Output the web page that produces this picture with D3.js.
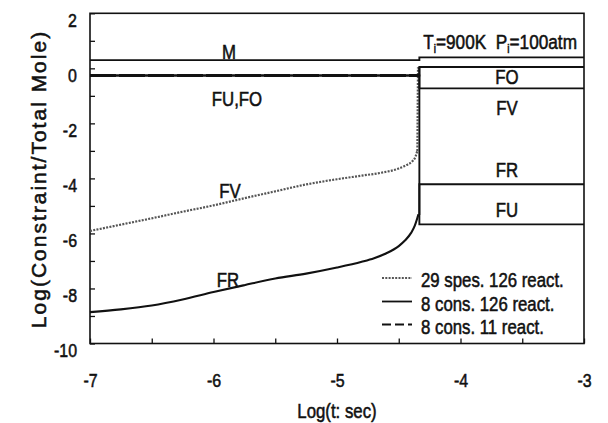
<!DOCTYPE html>
<html>
<head>
<meta charset="utf-8">
<script src="https://cdn.jsdelivr.net/npm/d3@7"></script>
<style>
  html, body { margin: 0; padding: 0; background: #fff; }
  svg { display: block; }
  text { font-family: "Liberation Sans", Arial, sans-serif; fill: #111; stroke: #111; stroke-width: 0.55px; white-space: pre; }
</style>
</head>
<body>
<svg id="chart" width="608" height="423"></svg>
<script>
// Time axis: log10(t / s)
const xDomain = [-7, -3];
const yDomain = [-10, 2];
const xTickValues = [-7, -6.5, -6, -5.5, -5, -4.5, -4, -3.5, -3];
const yTickValues = [-10, -9, -8, -7, -6, -5, -4, -3, -2, -1, 0, 1, 2];

// Ignition jump time (log t)
const tJump = -4.333;

// 29 species / 126 reactions: FV constraint before ignition
const fvTime  = [-7, -6.75, -6.5, -6.25, -6, -5.75, -5.5, -5.25, -5, -4.8, -4.65, -4.5, -4.44, -4.39, -4.365, -4.35];
const fvValue = [-5.91, -5.68, -5.45, -5.21, -4.98, -4.72, -4.47, -4.22, -4.03, -3.9, -3.8, -3.64, -3.52, -3.38, -3.22, -3.0];
const fvRiseTime  = [-4.35, -4.345, tJump];
const fvRiseValue = [-3.0, 0.0, 0.0];

// 8 constraints / 126 reactions: FR constraint
const frTime  = [-7, -6.75, -6.5, -6.25, -6, -5.75, -5.5, -5.25, -5, -4.8, -4.7, -4.6, -4.5, -4.45, -4.4, -4.37, -4.35, -4.34];
const frValue = [-8.86, -8.76, -8.62, -8.4, -8.13, -7.88, -7.64, -7.46, -7.24, -7.03, -6.9, -6.72, -6.46, -6.26, -5.98, -5.72, -5.45, -5.3];
const frAfterTime  = [-4.34, tJump, tJump, -3];
const frAfterValue = [-5.3, -5.3, -4.21, -4.21];

// Piecewise-constant constraints (before / after the jump)
const stepTime = [-7, tJump, tJump, -3];
const mValue   = [0.30, 0.30, 0.40, 0.40];
const foValue  = [-0.26, -0.26, 0.05, 0.05];
const fuValue  = [-0.26, -0.26, -5.67, -5.67];
const fvAfterTime  = [tJump, tJump, -3];
const fvAfterValue = [0.05, -0.73, -0.73];

const legendLabels = ["29 spes. 126 react.", "8 cons. 126 react.", "8 cons. 11 react."];

const svg = d3.select("#chart");
const margin = { left: 90, top: 13.3, right: 24, bottom: 79.5 };
const W = 608, H = 423;
const x = d3.scaleLinear().domain(xDomain).range([margin.left, W - margin.right]);
const y = d3.scaleLinear().domain(yDomain).range([H - margin.bottom, margin.top]);

const SX = 0.84; // condensed text width

function ctext(g, px, py, str, anchor, size) {
  return g.append("text")
    .attr("transform", `translate(${px},${py}) scale(${SX},1)`)
    .attr("text-anchor", anchor)
    .attr("font-size", size)
    .text(str);
}

const zip = (ts, vs) => ts.map((t, i) => [t, vs[i]]);
const line = d3.line().x(d => x(d[0])).y(d => y(d[1]));
const smooth = d3.line().x(d => x(d[0])).y(d => y(d[1])).curve(d3.curveMonotoneX);

// Axes with inward ticks
const gx = svg.append("g").attr("transform", `translate(0,${y(-10)})`)
  .call(d3.axisBottom(x).tickValues(xTickValues).tickSize(-5).tickSizeOuter(0)
    .tickFormat(d => Number.isInteger(d) ? String(d) : ""));
gx.select(".domain").remove();
gx.selectAll(".tick line").attr("stroke", "#111").attr("stroke-width", 1.3);
gx.selectAll(".tick text")
  .attr("y", 0).attr("dy", 0)
  .attr("font-size", 19).attr("font-family", null).attr("fill", "#111")
  .attr("transform", `translate(0,${387 - y(-10)}) scale(${SX},1)`);

const gy = svg.append("g").attr("transform", `translate(${x(-7)},0)`)
  .call(d3.axisLeft(y).tickValues(yTickValues).tickSize(-5).tickSizeOuter(0)
    .tickFormat(d => d % 2 === 0 ? String(d) : ""));
gy.select(".domain").remove();
gy.selectAll(".tick line").attr("stroke", "#111").attr("stroke-width", 1.3);
gy.selectAll(".tick text")
  .attr("x", 0).attr("y", 0).attr("dy", 0)
  .attr("font-size", 19).attr("font-family", null).attr("fill", "#111")
  .attr("text-anchor", "end")
  .attr("transform", `translate(-13,13) scale(${SX},1)`);

// Plot frame
svg.append("rect")
  .attr("x", x(-7)).attr("y", y(2))
  .attr("width", x(-3) - x(-7)).attr("height", y(-10) - y(2))
  .attr("fill", "none").attr("stroke", "#111").attr("stroke-width", 1.6);

const plot = svg.append("g");

// 29 spes. 126 react. (dotted)
plot.append("path").attr("d", smooth(zip(fvTime, fvValue)))
  .attr("fill", "none").attr("stroke", "#555").attr("stroke-width", 2.2)
  .attr("stroke-dasharray", "2,1.3");
plot.append("path").attr("d", line(zip(fvRiseTime, fvRiseValue)))
  .attr("fill", "none").attr("stroke", "#555").attr("stroke-width", 2)
  .attr("stroke-dasharray", "2,1.3");

// 8 cons. 126 react. (solid)
[[stepTime, mValue], [stepTime, foValue], [stepTime, fuValue],
 [fvAfterTime, fvAfterValue], [frAfterTime, frAfterValue]].forEach(([ts, vs]) => {
  plot.append("path").attr("d", line(zip(ts, vs)))
    .attr("fill", "none").attr("stroke", "#111").attr("stroke-width", 1.9);
});
plot.append("path").attr("d", smooth(zip(frTime, frValue)))
  .attr("fill", "none").attr("stroke", "#111").attr("stroke-width", 2.1);

// 8 cons. 11 react. (dashed) over the pre-ignition FU,FO level
plot.append("path").attr("d", line(zip(stepTime.slice(0, 2), foValue.slice(0, 2))))
  .attr("fill", "none").attr("stroke", "#111").attr("stroke-width", 2.8)
  .attr("stroke-dasharray", "26,3");

// Curve labels
const lab = svg.append("g");
ctext(lab, 229, 59, "M", "middle", 20);
ctext(lab, 237, 106, "FU,FO", "middle", 20);
ctext(lab, 230, 198, "FV", "middle", 20);
ctext(lab, 228, 286.5, "FR", "middle", 20);
ctext(lab, 507, 84, "FO", "middle", 20);
ctext(lab, 507, 115, "FV", "middle", 20);
ctext(lab, 507, 177, "FR", "middle", 20);
ctext(lab, 507, 216.5, "FU", "middle", 20);

// Initial conditions
const title = svg.append("text")
  .attr("transform", `translate(577,49) scale(${SX},1)`)
  .attr("text-anchor", "end").attr("font-size", 20.5);
title.append("tspan").text("T");
title.append("tspan").attr("font-size", 12).attr("dy", 4).text("i");
title.append("tspan").attr("dy", -4).text("=900K  P");
title.append("tspan").attr("font-size", 12).attr("dy", 4).text("i");
title.append("tspan").attr("dy", -4).text("=100atm");

// Legend
const legendStyles = [
  { stroke: "#555", width: 2.2, dash: "2,1.3" },
  { stroke: "#111", width: 1.8, dash: null },
  { stroke: "#111", width: 1.8, dash: "9,4" }
];
const legendY = [280, 303.5, 326.5];
legendLabels.forEach((txt, i) => {
  svg.append("line")
    .attr("x1", 382).attr("x2", 412).attr("y1", legendY[i] - 2).attr("y2", legendY[i] - 2)
    .attr("stroke", legendStyles[i].stroke).attr("stroke-width", legendStyles[i].width)
    .attr("stroke-dasharray", legendStyles[i].dash);
  ctext(svg, 421, legendY[i] + 7, txt, "start", 20);
});

// Axis titles
ctext(svg, 337, 418, "Log(t: sec)", "middle", 20);
svg.append("text")
  .attr("transform", "translate(45.5,179) rotate(-90)")
  .attr("text-anchor", "middle").attr("font-size", 21)
  .attr("letter-spacing", 2)
  .text("Log(Constraint/Total Mole)");
</script>
</body>
</html>
